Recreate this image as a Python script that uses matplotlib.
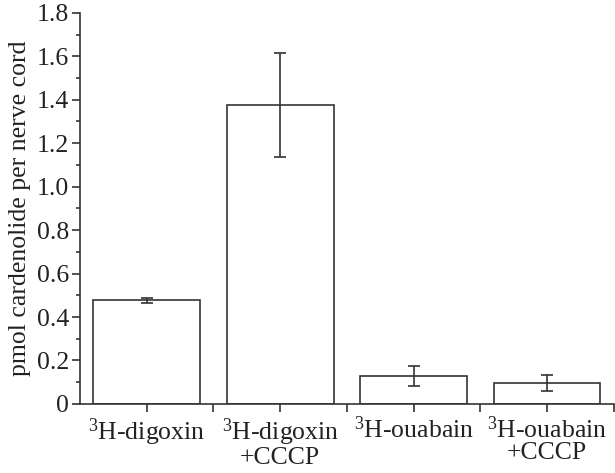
import numpy as np
import matplotlib.pyplot as plt
from matplotlib.ticker import MultipleLocator, FixedLocator

categories = [r"$^{3}$H-digoxin", "$^{3}$H-digoxin\n+CCCP", r"$^{3}$H-ouabain", "$^{3}$H-ouabain\n+CCCP"]
values = [0.476, 1.375, 0.130, 0.097]
errors = [0.011, 0.240, 0.046, 0.036]
yticks = [0, 0.2, 0.4, 0.6, 0.8, 1.0, 1.2, 1.4, 1.6, 1.8]
ytick_labels = ['0', '0.2', '0.4', '0.6', '0.8', '1.0', '1.2', '1.4', '1.6', '1.8']

plt.rcParams['font.family'] = ['Liberation Serif', 'DejaVu Serif']
plt.rcParams['font.size'] = 18.5
plt.rcParams['mathtext.fontset'] = 'custom'
plt.rcParams['mathtext.rm'] = 'Liberation Serif'
plt.rcParams['mathtext.it'] = 'Liberation Serif:italic'
plt.rcParams['mathtext.bf'] = 'Liberation Serif:bold'
plt.rcParams['mathtext.default'] = 'rm'

col = '#333333'
fig = plt.figure(figsize=(6.15, 4.73), dpi=100)
ax = fig.add_axes([0.130, 0.146, 0.868, 0.827])

x = np.arange(len(categories))
ax.bar(x, values, width=0.8, color='white', edgecolor=col, linewidth=1.2,
       yerr=errors, capsize=4, error_kw=dict(ecolor=col, elinewidth=1.2, capthick=1.2))

ax.set_xlim(-0.5, 3.5)
ax.set_ylim(0, 1.8)
ax.set_xticks(x)
ax.set_xticklabels(categories, linespacing=0.95)
ax.xaxis.set_minor_locator(FixedLocator([0.5, 1.5, 2.5, 3.5]))
ax.set_yticks(yticks)
ax.set_yticklabels(ytick_labels)
ax.yaxis.set_minor_locator(MultipleLocator(0.1))

for s in ['top', 'right']:
    ax.spines[s].set_visible(False)
for s in ['left', 'bottom']:
    ax.spines[s].set_color(col)
    ax.spines[s].set_linewidth(1.2)

ax.tick_params(axis='both', which='both', direction='out', color=col, width=1.2, labelcolor='#222222')
ax.tick_params(axis='y', which='major', length=6, pad=2)
ax.tick_params(axis='y', which='minor', length=3)
ax.tick_params(axis='x', which='both', length=6, pad=3)

ax.set_ylabel('pmol cardenolide per nerve cord', color='#222222', labelpad=4)

fig.savefig('out.png', dpi=100)
